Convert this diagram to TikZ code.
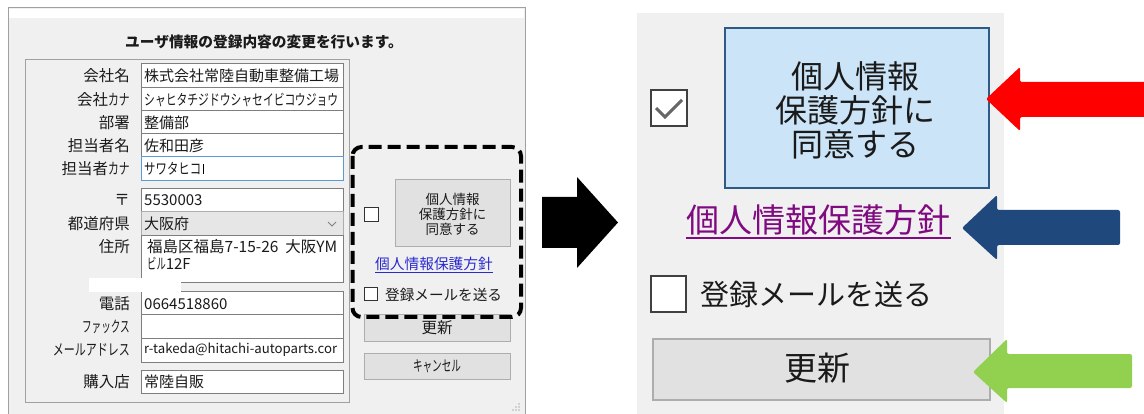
\documentclass[tikz,border=0pt]{standalone}
\usepackage{fontspec}
\setmainfont{Noto Sans CJK JP}
\usepackage{graphicx}
\definecolor{winbg}{HTML}{F0F0F0}
\definecolor{fieldgray}{HTML}{7E7E7E}
\definecolor{grpgray}{HTML}{A0A0A0}
\definecolor{btnfill}{HTML}{E1E1E1}
\definecolor{btnborder}{HTML}{ADADAD}
\definecolor{combofill}{HTML}{E6E6E6}
\definecolor{focusblue}{HTML}{5A9BD5}
\definecolor{linkblue}{HTML}{2A2ACF}
\definecolor{linkpurple}{HTML}{800A80}
\definecolor{selfill}{HTML}{CCE4F7}
\definecolor{selborder}{HTML}{2F5A86}
\definecolor{arrred}{HTML}{FF0000}
\definecolor{arrblue}{HTML}{1F497D}
\definecolor{arrgreen}{HTML}{92D050}
\definecolor{txt}{HTML}{1A1A1A}
\newcommand\hwk[2][0.7]{\scalebox{#1}[1]{#2}}
\tikzset{
  lbl/.style={anchor=east, inner sep=0, text=txt, font=\fontsize{15.5}{18}\selectfont},
  ftxt/.style={anchor=west, inner sep=0, text=txt, font=\fontsize{15}{18}\selectfont},
  fieldbox/.style={draw=fieldgray, fill=white, line width=1pt},
  btnbox/.style={draw=btnborder, fill=btnfill, line width=1pt},
  chkbox/.style={draw=black!80, fill=white, line width=1pt},
  blockarrow/.style={rounded corners=2pt},
}
\begin{document}
\begin{tikzpicture}[x=1pt,y=-1pt]
\useasboundingbox (0,0) rectangle (1144,414);
\fill[white] (0,0) rectangle (1144,414);
% ---------- left window ----------
\fill[winbg] (8,8) rectangle (525,414);
\fill[white] (9,9) rectangle (524,18);
\draw[grpgray, line width=1pt] (8,414) -- (8,8) -- (525,8) -- (525,414);
\draw[grpgray, line width=1pt] (25,60) rectangle (349,402);
\node[inner sep=0, text=txt, font=\fontsize{14.7}{16}\selectfont\bfseries] (title) at (264,42) {ユーザ情報の登録内容の変更を行います。};
% fields
\draw[fieldbox] (141,64) rectangle (343,88);
\draw[fieldbox] (141,88) rectangle (343,111);
\draw[fieldbox] (141,111) rectangle (343,134);
\draw[fieldbox] (141,134) rectangle (343,157);
\draw[fieldbox, draw=focusblue] (141,157) rectangle (343,181);
\draw[fieldbox] (141,189) rectangle (343,212);
\draw[draw=btnborder, fill=combofill, line width=1pt] (141,212) rectangle (343,236);
\draw[fieldbox] (141,236) rectangle (343,283);
\draw[fieldbox] (141,292) rectangle (343,315);
\draw[fieldbox] (141,315) rectangle (343,338);
\draw[fieldbox] (141,338) rectangle (343,362);
\draw[fieldbox] (141,370) rectangle (343,393);
\draw[gray, line width=1pt] (328,222) -- (332,226) -- (336,222);
% labels
\node[lbl] (l1) at (130,76) {会社名};
\node[lbl] (l2) at (130,100) {会社\hwk[0.7]{カナ}};
\node[lbl] (l3) at (130,123) {部署};
\node[lbl] (l4) at (130,146) {担当者名};
\node[lbl] (l5) at (130,169) {担当者\hwk[0.7]{カナ}};
\node[lbl] (l6) at (130,200) {〒};
\node[lbl] (l7) at (130,224) {都道府県};
\node[lbl] (l8) at (130,247) {住所};
\node[lbl] (l9) at (130,304) {電話};
\node[lbl] (l10) at (130,327) {\hwk[0.62]{ファックス}};
\node[lbl] (l11) at (130,350) {\hwk[0.71]{メールアドレス}};
\node[lbl] (l12) at (130,382) {購入店};
% field texts
\node[ftxt] (t1) at (144,76) {株式会社常陸自動車整備工場};
\node[ftxt] (t2) at (144,100) {\hwk[0.72]{シャヒタチジドウシャセイビコウジョウ}};
\node[ftxt] (t3) at (144,123) {整備部};
\node[ftxt] (t4) at (144,146) {佐和田彦};
\node[ftxt] (t5) at (144,169) {\hwk[0.76]{サワタヒコ}};
\draw[black, line width=1pt] ([xshift=2pt,yshift=-2pt]t5.north east) -- ([xshift=2pt,yshift=2pt]t5.south east);
\node[ftxt] (t6) at (144,200) {5530003};
\node[ftxt] (t7) at (144,224) {大阪府};
\node[ftxt, font=\fontsize{15.5}{18}\selectfont] (t8a) at (147,247) {福島区福島7-15-26\ \ 大阪YM};
\node[ftxt] (t8b) at (147,264) {\hwk[0.62]{ビル}12F};
\node[ftxt] (t9) at (144,304) {0664518860};
\node[ftxt, font=\fontsize{13.2}{16}\selectfont] (t11) at (144,350) {r-takeda@hitachi-autoparts.cor};
\node[ftxt] (t12) at (144,382) {常陸自販};
% white patch
\fill[white] (89,278) rectangle (181,292);
% buttons in left window
\draw[chkbox] (364,208) rectangle (378,222);
\draw[btnbox] (395,180) rectangle (510,247);
\node[inner sep=0, align=center, text=txt, font=\fontsize{13.5}{15}\selectfont] (agreeL) at (452.5,214) {個人情報\\保護方針に\\同意する};
\node[inner sep=0, text=linkblue, font=\fontsize{14.7}{16}\selectfont] (linkL) at (434,264) {個人情報保護方針};
\draw[linkblue, line width=1pt] ([yshift=-1pt]linkL.south west) -- ([yshift=-1pt]linkL.south east);
\draw[chkbox] (364,288) rectangle (377,301);
\node[inner sep=0, anchor=west, text=txt, font=\fontsize{14.6}{16}\selectfont] (mailL) at (385,295) {登録メールを送る};
\draw[btnbox] (364,315) rectangle (510,341);
\node[inner sep=0, text=txt, font=\fontsize{15.5}{16}\selectfont] (updL) at (437,328) {更新};
\draw[btnbox] (364,353) rectangle (510,379);
\node[inner sep=0, text=txt, font=\fontsize{15}{16}\selectfont] (cancelL) at (437,366) {\hwk[0.64]{キャンセル}};
\fill[gray!60] (519,404) circle (0.8) (516,407) circle (0.8) (519,407) circle (0.8) (513,410) circle (0.8) (516,410) circle (0.8) (519,410) circle (0.8);
% dashed highlight
\draw[black, line width=4pt, dash pattern=on 13pt off 6pt, rounded corners=9pt] (352.5,147) rectangle (521,317);
% ---------- black arrow ----------
\fill[black] (542,197) -- (577,197) -- (577,177) -- (618,222.5) -- (577,268) -- (577,248) -- (542,248) -- cycle;
% ---------- right zoomed panel ----------
\fill[winbg] (637,13) rectangle (1004,414);
\draw[chkbox, line width=2pt, draw=black!75] (651,90) rectangle (687,126);
\draw[black!60, line width=3pt] (656,108) -- (665,117) -- (682,100);
\draw[fill=selfill, draw=selborder, line width=2pt] (725,28) rectangle (989,188);
\node[inner sep=0, align=center, text=txt, font=\fontsize{32}{34}\selectfont] (agreeR) at (855,110) {個人情報\\保護方針に\\同意する};
\node[inner sep=0, text=linkpurple, font=\fontsize{33}{36}\selectfont] (linkR) at (818.5,220) {個人情報保護方針};
\draw[linkpurple, line width=2pt] ([yshift=-3pt]linkR.south west) -- ([yshift=-3pt]linkR.south east);
\draw[chkbox, line width=2pt, draw=black!75] (651,276) rectangle (686,312);
\node[inner sep=0, anchor=west, text=txt, font=\fontsize{29}{32}\selectfont] (mailR) at (700,294) {登録メールを送る};
\draw[btnbox, line width=2pt] (653,339) rectangle (990,400);
\node[inner sep=0, text=txt, font=\fontsize{33}{36}\selectfont] (updR) at (817,368) {更新};
% ---------- colored arrows ----------
\fill[arrred, blockarrow] (986,99) -- (1020,67) -- (1020,82) -- (1150,82) -- (1150,117) -- (1020,117) -- (1020,131) -- cycle;
\fill[arrblue, blockarrow] (962,228) -- (997,195) -- (997,210) -- (1120,210) -- (1120,245) -- (997,245) -- (997,260) -- cycle;
\fill[arrgreen, blockarrow] (973,372) -- (1007,339) -- (1007,354) -- (1132,354) -- (1132,388) -- (1007,388) -- (1007,403) -- cycle;
\end{tikzpicture}
\end{document}
